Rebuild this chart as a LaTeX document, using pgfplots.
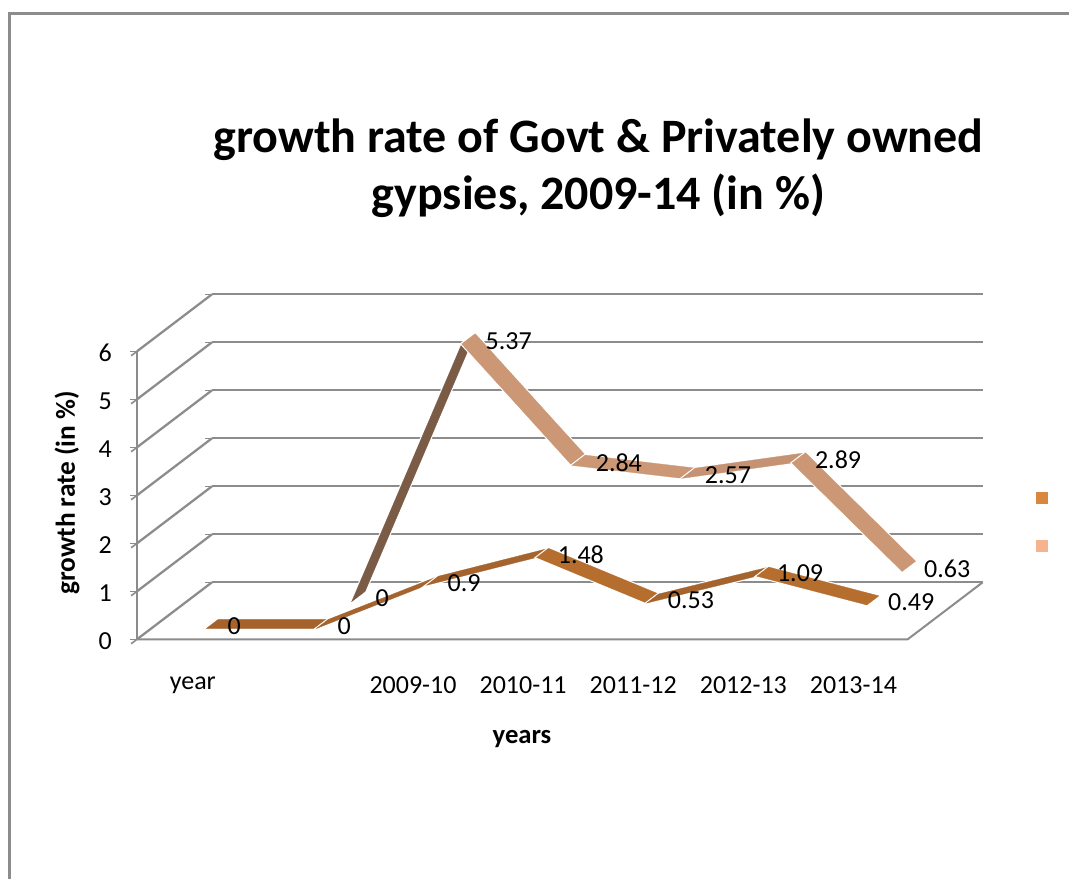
\documentclass[border=0pt]{standalone}
\usepackage{fontspec}
\setmainfont{Carlito}
\usepackage{pgfplots}
\pgfplotsset{compat=1.18}
\definecolor{gridgray}{HTML}{8C8C8C}
\definecolor{flatbrown}{HTML}{A6622B}
\definecolor{risebrown}{HTML}{A5642D}
\definecolor{fallbrown}{HTML}{B56E2E}
\definecolor{steep}{HTML}{7A5B45}
\definecolor{tan}{HTML}{CB9775}
\definecolor{tanrise}{HTML}{C59273}
\definecolor{keyone}{HTML}{D9873F}
\definecolor{keytwo}{HTML}{F7B38D}

% one flat ribbon piece between two categories, with a white halo
\newcommand{\ribbon}[7]{%
  \addplot3[draw=white,line width=2pt,mark=none]
    coordinates {(#2,#6,#3) (#4,#6,#5) (#4,#7,#5) (#2,#7,#3)} --cycle;
  \addplot3[fill=#1,draw=#1,line width=0.2pt,mark=none]
    coordinates {(#2,#6,#3) (#4,#6,#5) (#4,#7,#5) (#2,#7,#3)} --cycle;}
% a value label beside a ribbon joint
\newcommand{\vallabel}[4]{%
  \node[anchor=west,inner sep=0pt,xshift=#4*0.75pt,yshift=-1.5pt,font=\fontsize{19.5pt}{22pt}\selectfont]
    at (axis cs:#1,#2,#3) {#3};}

\begin{document}
\begin{tikzpicture}[x=0.75pt,y=0.75pt]
\useasboundingbox (0,0) rectangle (1069,879);
\fill[white] (0,0) rectangle (1069,879);
% chart frame, open on the right and at the bottom
\draw[gridgray,line width=1.8pt] (9.5,0) -- (9.5,865.5) -- (1069,865.5);

\node[font=\fontsize{36pt}{42.5pt}\selectfont\bfseries,align=center] at (598.5,711)
  {growth rate of Govt \& Privately owned\\gypsies, 2009-14 (in \%)};

\begin{axis}[
  at={(144pt,179.75pt)},anchor=origin,
  x={(82.575pt,0pt)},y={(56.25pt,42.75pt)},z={(0pt,36pt)},
  xmin=-0.5,xmax=6.5,ymin=0,ymax=1,zmin=0,zmax=6,
  clip=false,
  axis line style={draw=none},
  xtick={0,...,6},
  xticklabels={year,,2009-10,2010-11,2011-12,2012-13,2013-14},
  ytick=\empty,
  ztick={0,...,6},
  zmajorgrids=true,
  xmajorgrids=false,
  major grid style={gridgray,line width=1.7pt,line join=bevel},
  x tick style={draw=none},
  z tick style={gridgray,line width=1.2pt},
  ztick pos=left,
  xtick pos=left,
  tick align=outside,
  major tick length=5.5pt,
  /pgf/number format/assume math mode=true,
  tick label style={font=\fontsize{19.5pt}{22pt}\selectfont},
  xticklabel style={anchor=north,xshift=5pt,yshift=-21pt},
  zticklabel style={xshift=-11pt,yshift=5pt},
]
% visible axis edges and the front of the floor
\addplot3[gridgray,line width=1.5pt,mark=none] coordinates {(-0.5,0,0) (-0.5,0,6)};
\addplot3[gridgray,line width=1.5pt,mark=none,line join=bevel] coordinates {(-0.5,0,0) (6.5,0,0) (6.5,1,0)};

% series at the back of the floor
\ribbon{steep}{1}{0}{2}{5.37}{0.66}{0.84}
\ribbon{tan}{2}{5.37}{3}{2.84}{0.66}{0.84}
\ribbon{tan}{3}{2.84}{4}{2.57}{0.66}{0.84}
\ribbon{tanrise}{4}{2.57}{5}{2.89}{0.66}{0.84}
\ribbon{tan}{5}{2.89}{6}{0.63}{0.66}{0.84}
% series at the front of the floor
\ribbon{flatbrown}{0}{0}{1}{0}{0.19}{0.35}
\ribbon{risebrown}{1}{0}{2}{0.9}{0.19}{0.35}
\ribbon{risebrown}{2}{0.9}{3}{1.48}{0.19}{0.35}
\ribbon{fallbrown}{3}{1.48}{4}{0.53}{0.19}{0.35}
\ribbon{risebrown}{4}{0.53}{5}{1.09}{0.19}{0.35}
\ribbon{fallbrown}{5}{1.09}{6}{0.49}{0.19}{0.35}

\vallabel{0}{0.27}{0}{15}
\vallabel{1}{0.27}{0}{15}
\vallabel{2}{0.27}{0.9}{15}
\vallabel{3}{0.27}{1.48}{15}
\vallabel{4}{0.27}{0.53}{15}
\vallabel{5}{0.27}{1.09}{14}
\vallabel{6}{0.27}{0.49}{15}
\vallabel{1}{0.75}{0}{17}
\vallabel{2}{0.75}{5.37}{17}
\vallabel{3}{0.75}{2.84}{17}
\vallabel{4}{0.75}{2.57}{16}
\vallabel{5}{0.75}{2.89}{16}
\vallabel{6}{0.75}{0.63}{15}
\end{axis}

\node[font=\fontsize{20pt}{24pt}\selectfont\bfseries] at (522,140) {years};
\node[font=\fontsize{20.5pt}{24pt}\selectfont\bfseries,rotate=90] at (67,386) {growth rate (in \%)};

% legend keys
\fill[keyone] (1036,375) rectangle (1048,387);
\fill[keytwo] (1036,327) rectangle (1048,339);
\end{tikzpicture}
\end{document}
